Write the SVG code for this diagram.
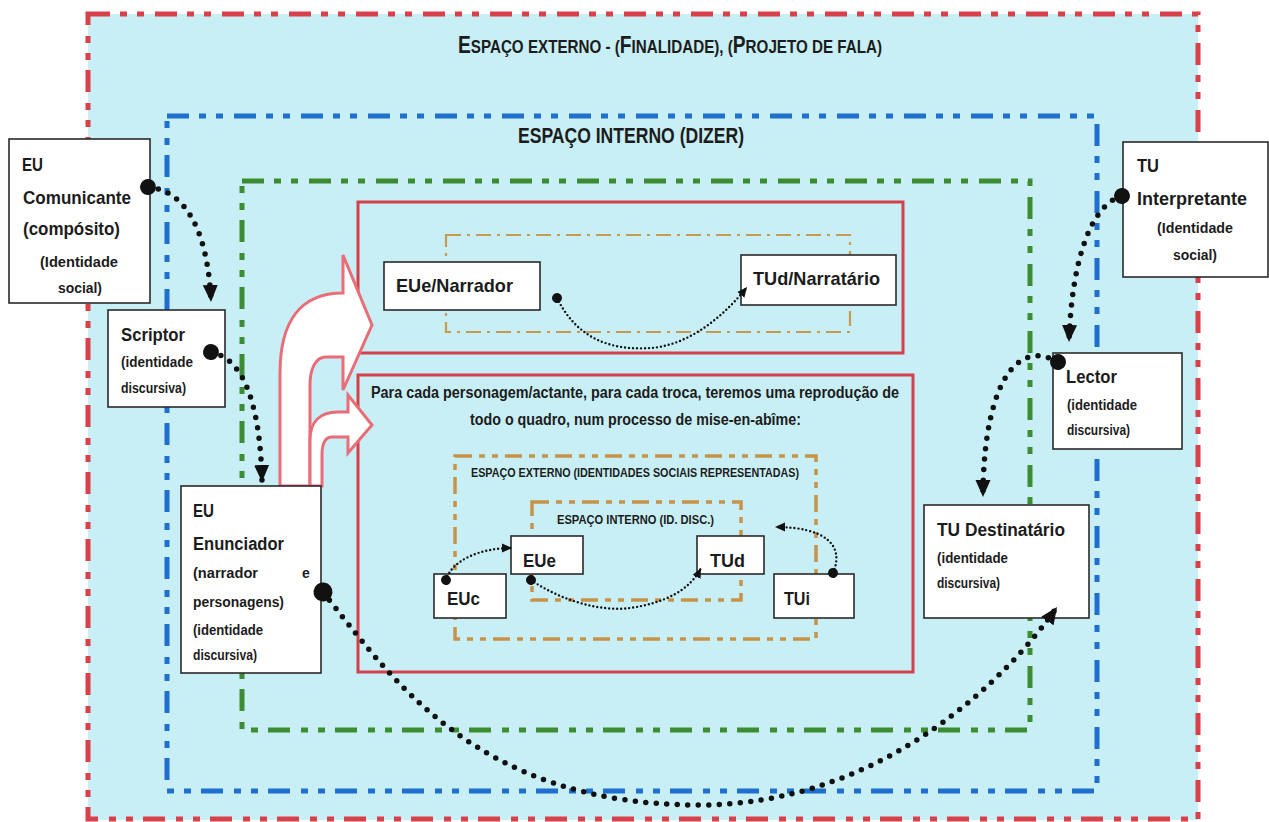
<svg xmlns="http://www.w3.org/2000/svg" width="1269" height="822" viewBox="0 0 1269 822">
<defs>
<style>
.t{font-family:"Liberation Sans",Arial,sans-serif;font-weight:bold;fill:#1c1c1c}
.box{fill:#ffffff;stroke:#2a2a2a;stroke-width:1.6}
.zone{fill:none;stroke-width:5;stroke-dasharray:22 10 7 10 7 11}
.rbox{fill:none;stroke:#d4414b;stroke-width:3}
.pink{fill:#ffffff;stroke:#ea6c76;stroke-width:3;stroke-linejoin:miter}
.dots{fill:none;stroke:#111;stroke-width:5.5;stroke-linecap:round;stroke-dasharray:0 10.5}
.fdots{fill:none;stroke:#111;stroke-width:2.4;stroke-linecap:round;stroke-dasharray:0 4}
</style>
<marker id="ah" markerUnits="userSpaceOnUse" viewBox="0 0 18 16" markerWidth="18" markerHeight="16" refX="17" refY="8" orient="auto"><path d="M0,0.5 L17,8 L0,15.5 Z" fill="#111"/></marker>
<marker id="ahs" markerUnits="userSpaceOnUse" viewBox="0 0 11 10" markerWidth="11" markerHeight="10" refX="10" refY="5" orient="auto"><path d="M0,0.5 L10,5 L0,9.5 Z" fill="#111"/></marker>
<marker id="dot" markerUnits="userSpaceOnUse" viewBox="0 0 18 18" markerWidth="18" markerHeight="18" refX="9" refY="9" orient="auto"><circle cx="9" cy="9" r="8" fill="#111"/></marker>
<marker id="dotb" markerUnits="userSpaceOnUse" viewBox="0 0 20 20" markerWidth="20" markerHeight="20" refX="10" refY="10" orient="auto"><circle cx="10" cy="10" r="9.5" fill="#111"/></marker>
<marker id="dots" markerUnits="userSpaceOnUse" viewBox="0 0 12 12" markerWidth="12" markerHeight="12" refX="6" refY="6" orient="auto"><circle cx="6" cy="6" r="5" fill="#111"/></marker>
</defs>

<g id="background">
<rect x="88" y="14" width="1110" height="806" fill="#c8eff5"/>
</g>

<g id="espaco-externo">
<rect class="zone" x="88" y="14" width="1110" height="805" stroke="#d8404a"/>
<text class="t" transform="translate(458,53) scale(0.8,1)" x="0" y="0"><tspan font-size="24">E</tspan><tspan font-size="19">SPAÇO EXTERNO - (</tspan><tspan font-size="24">F</tspan><tspan font-size="19">INALIDADE), (</tspan><tspan font-size="24">P</tspan><tspan font-size="19">ROJETO DE FALA)</tspan></text>
</g>

<g id="espaco-interno">
<rect class="zone" x="167" y="116" width="930" height="675" stroke="#1f6fce"/>
<text class="t" x="518" y="143" font-size="22" textLength="226" lengthAdjust="spacingAndGlyphs">ESPAÇO INTERNO (DIZER)</text>
</g>

<g id="zona-verde">
<rect class="zone" x="242" y="181" width="788" height="549" stroke="#3c8c34" stroke-width="4.5"/>
</g>

<g id="quadro-narrador">
<rect class="rbox" x="358" y="202" width="545" height="151"/>
<rect x="446" y="235" width="404" height="97" fill="none" stroke="#c79a52" stroke-width="2.2" stroke-dasharray="15 6 3 6"/>
</g>

<g id="quadro-mise-en-abime">
<rect class="rbox" x="358" y="375" width="555" height="297"/>
<text class="t" x="371" y="398" font-size="16" textLength="528" lengthAdjust="spacingAndGlyphs">Para cada personagem/actante, para cada troca, teremos uma reprodução de</text>
<text class="t" x="470" y="425" font-size="16" textLength="331" lengthAdjust="spacingAndGlyphs">todo o quadro, num processo de mise-en-abîme:</text>
<rect x="455" y="456" width="361" height="183" fill="none" stroke="#c79349" stroke-width="3.5" stroke-dasharray="17 7 6 7 6 7"/>
<text class="t" x="471" y="477" font-size="12.5" textLength="328" lengthAdjust="spacingAndGlyphs">ESPAÇO EXTERNO (IDENTIDADES SOCIAIS REPRESENTADAS)</text>
<rect x="532" y="502" width="209" height="98" fill="none" stroke="#c79349" stroke-width="3.5" stroke-dasharray="17 7 6 7 6 7"/>
<text class="t" x="557" y="524" font-size="12.5" textLength="157" lengthAdjust="spacingAndGlyphs">ESPAÇO INTERNO (ID. DISC.)</text>
</g>

<g id="setas-rosa">
<path class="pink" d="M280,486 L280,373 C280,322 300,293 343,293 L343,255 L372,325 L343,390 L343,357 L326,357 C316,357 310,368 310,385 L310,486 Z"/>
<path class="pink" d="M310,486 L310,440 C310,424 318,412 338,412 L348,412 L348,395 L372,425 L348,453 L348,437 L332,437 C325,437 322,444 322,455 L322,486 Z"/>
</g>

<g id="eu-comunicante">
<rect class="box" x="9" y="139" width="141" height="164"/>
<text class="t" x="22" y="171" font-size="19" textLength="21" lengthAdjust="spacingAndGlyphs">EU</text>
<text class="t" x="23" y="204" font-size="19" textLength="108" lengthAdjust="spacingAndGlyphs">Comunicante</text>
<text class="t" x="23" y="235" font-size="19" textLength="97" lengthAdjust="spacingAndGlyphs">(compósito)</text>
<text class="t" x="40" y="267" font-size="14" textLength="78" lengthAdjust="spacingAndGlyphs">(Identidade</text>
<text class="t" x="58" y="293" font-size="14" textLength="44" lengthAdjust="spacingAndGlyphs">social)</text>
</g>

<g id="scriptor">
<rect class="box" x="108" y="310" width="117" height="97"/>
<text class="t" x="121" y="341" font-size="19" textLength="64" lengthAdjust="spacingAndGlyphs">Scriptor</text>
<text class="t" x="121" y="367" font-size="14" textLength="72" lengthAdjust="spacingAndGlyphs">(identidade</text>
<text class="t" x="121" y="393" font-size="14" textLength="65" lengthAdjust="spacingAndGlyphs">discursiva)</text>
</g>

<g id="eu-enunciador">
<rect class="box" x="181" y="486" width="140" height="187"/>
<text class="t" x="193" y="517" font-size="18" textLength="21" lengthAdjust="spacingAndGlyphs">EU</text>
<text class="t" x="193" y="550" font-size="18" textLength="91" lengthAdjust="spacingAndGlyphs">Enunciador</text>
<text class="t" x="193" y="578" font-size="14" textLength="65" lengthAdjust="spacingAndGlyphs">(narrador</text>
<text class="t" x="302" y="578" font-size="14">e</text>
<text class="t" x="193" y="607" font-size="14" textLength="91" lengthAdjust="spacingAndGlyphs">personagens)</text>
<text class="t" x="193" y="635" font-size="14" textLength="70" lengthAdjust="spacingAndGlyphs">(identidade</text>
<text class="t" x="193" y="660" font-size="14" textLength="64" lengthAdjust="spacingAndGlyphs">discursiva)</text>
</g>

<g id="tu-interpretante">
<rect class="box" x="1123" y="142" width="145" height="135"/>
<text class="t" x="1137" y="172" font-size="19" textLength="22" lengthAdjust="spacingAndGlyphs">TU</text>
<text class="t" x="1137" y="205" font-size="19" textLength="110" lengthAdjust="spacingAndGlyphs">Interpretante</text>
<text class="t" x="1157" y="233" font-size="14" textLength="76" lengthAdjust="spacingAndGlyphs">(Identidade</text>
<text class="t" x="1173" y="260" font-size="14" textLength="44" lengthAdjust="spacingAndGlyphs">social)</text>
</g>

<g id="lector">
<rect class="box" x="1053" y="353" width="129" height="96"/>
<text class="t" x="1066" y="383" font-size="19" textLength="51" lengthAdjust="spacingAndGlyphs">Lector</text>
<text class="t" x="1067" y="410" font-size="14" textLength="70" lengthAdjust="spacingAndGlyphs">(identidade</text>
<text class="t" x="1067" y="435" font-size="14" textLength="63" lengthAdjust="spacingAndGlyphs">discursiva)</text>
</g>

<g id="tu-destinatario">
<rect class="box" x="924" y="505" width="165" height="113"/>
<text class="t" x="937" y="536" font-size="18" textLength="128" lengthAdjust="spacingAndGlyphs">TU Destinatário</text>
<text class="t" x="937" y="563" font-size="14" textLength="71" lengthAdjust="spacingAndGlyphs">(identidade</text>
<text class="t" x="937" y="588" font-size="14" textLength="63" lengthAdjust="spacingAndGlyphs">discursiva)</text>
</g>

<g id="eue-narrador">
<rect class="box" x="384" y="262" width="156" height="48"/>
<text class="t" x="396" y="292" font-size="19" textLength="117" lengthAdjust="spacingAndGlyphs">EUe/Narrador</text>
</g>

<g id="tud-narratario">
<rect class="box" x="741" y="255" width="155" height="50"/>
<text class="t" x="753" y="285" font-size="19" textLength="127" lengthAdjust="spacingAndGlyphs">TUd/Narratário</text>
</g>

<g id="eue">
<rect class="box" x="511" y="536" width="72" height="38"/>
<text class="t" x="523" y="567" font-size="19" textLength="33" lengthAdjust="spacingAndGlyphs">EUe</text>
</g>

<g id="tud">
<rect class="box" x="697" y="536" width="67" height="38"/>
<text class="t" x="710" y="567" font-size="19" textLength="35" lengthAdjust="spacingAndGlyphs">TUd</text>
</g>

<g id="euc">
<rect class="box" x="434" y="574" width="72" height="44"/>
<text class="t" x="447" y="605" font-size="19" textLength="33" lengthAdjust="spacingAndGlyphs">EUc</text>
</g>

<g id="tui">
<rect class="box" x="774" y="574" width="80" height="44"/>
<text class="t" x="784" y="605" font-size="19" textLength="26" lengthAdjust="spacingAndGlyphs">TUi</text>
</g>

<g id="connectors">
<path class="dots" d="M148,187 C185,190 208,230 211,302" marker-start="url(#dot)" marker-end="url(#ah)"/>
<path class="dots" d="M211,352 C240,358 260,395 262,482" marker-start="url(#dot)" marker-end="url(#ah)"/>
<path class="dots" d="M323,592 C390,676 475,805 699,805 C887,805 1013,671 1057,607" marker-start="url(#dotb)" marker-end="url(#ah)"/>
<path class="dots" d="M1122,196 C1095,203 1072,250 1069,342" marker-start="url(#dot)" marker-end="url(#ah)"/>
<path class="dots" d="M1058,362 C1010,335 983,400 983,497" marker-start="url(#dot)" marker-end="url(#ah)"/>
<path class="fdots" d="M557,298 C580,345 620,350 651,348 C690,345 725,315 747,287" marker-start="url(#dots)" marker-end="url(#ahs)"/>
<path class="fdots" d="M446,580 C452,560 480,548 512,548" marker-start="url(#dots)" marker-end="url(#ahs)"/>
<path class="fdots" d="M531,580 C560,600 600,612 630,608 C665,603 690,590 701,568" marker-start="url(#dots)" marker-end="url(#ahs)"/>
<path class="fdots" d="M833,573 C845,545 825,527 775,527" marker-start="url(#dots)" marker-end="url(#ahs)"/>
</g>
</svg>
